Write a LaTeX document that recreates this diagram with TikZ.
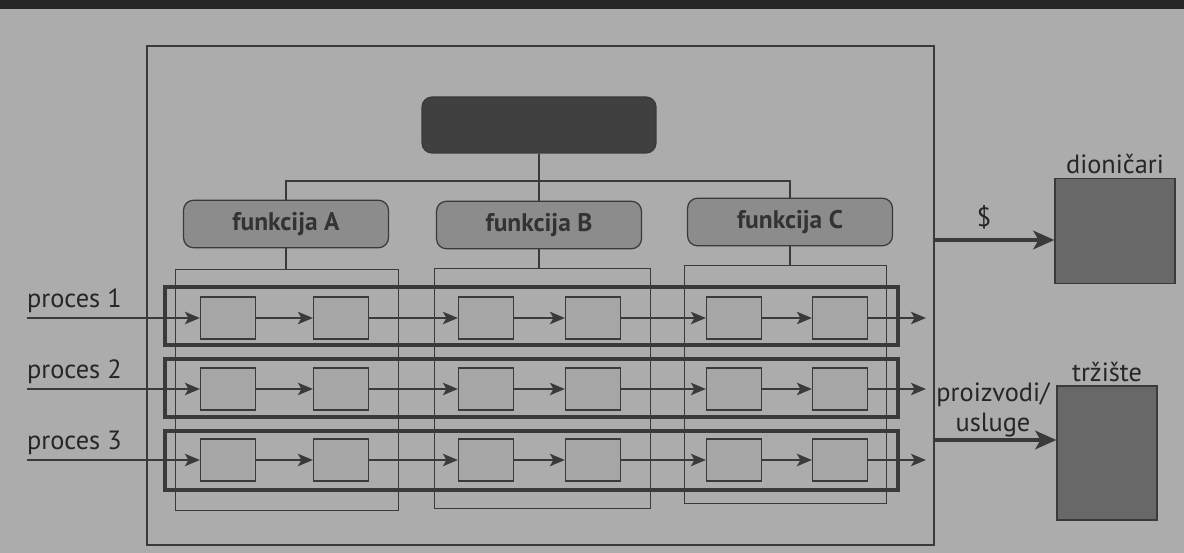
\documentclass[tikz,border=0pt]{standalone}
\usepackage{fontspec}
\setmainfont{PT Sans}
\usepackage{tikz}
\usetikzlibrary{calc, arrows.meta, positioning}

\definecolor{pagebg}{RGB}{172,172,172}
\definecolor{ink}{RGB}{58,58,58}
\definecolor{funcfill}{RGB}{140,140,140}
\definecolor{topfill}{RGB}{64,64,64}
\definecolor{extfill}{RGB}{104,104,104}
\definecolor{cellfill}{RGB}{166,166,166}

\begin{document}
\begin{tikzpicture}[x=0.02cm, y=-0.02cm,
        line/.style={draw=ink, line width=0.7pt},
        func/.style={line, fill=funcfill, rounded corners=0.2cm, minimum width=4.1cm, minimum height=0.95cm, font=\bfseries\fontsize{14.5}{16}\selectfont, text=black!80},
        topbox/.style={line, fill=topfill, rounded corners=0.2cm, minimum width=4.68cm, minimum height=1.12cm},
        colbox/.style={line, line width=0.5pt},
        prow/.style={draw=ink, line width=2.2pt},
        pbox/.style={line, fill=cellfill, minimum width=1.1cm, minimum height=0.84cm, inner sep=0pt},
        flow/.style={draw=ink, line width=1.3pt, -{Stealth[length=8.5pt, width=7pt, inset=2pt]}},
        bigflow/.style={draw=ink, line width=2.4pt, -{Stealth[length=12pt, width=10.5pt, inset=3pt]}},
        ext/.style={line, fill=extfill},
        lbl/.style={font=\fontsize{15}{17}\selectfont, text=black!85, inner sep=1pt}]
    \useasboundingbox (0,0) rectangle (1184,553);
    \fill[pagebg] (0,0) rectangle (1184,553);
    \fill[black!85] (0,0) rectangle (1184,9);

    % outer frame
    \draw[line] (147,46) rectangle (934,545);

    % top of the hierarchy
    \node[topbox] (top) at (539,125) {};
    \node[func] (fA) at (286,224) {funkcija A};
    \node[func] (fB) at (539,225) {funkcija B};
    \node[func] (fC) at (790,222) {funkcija C};
    \coordinate (split) at (539,181);
    \draw[line] (top) -- (split);
    \draw[line] (fA.north) |- (split) -| (fC.north);
    \draw[line] (split) -- (fB.north);

    % function columns
    \node[colbox, minimum width=4.46cm, minimum height=4.82cm] (cA) at (286.5,389.5) {};
    \node[colbox, minimum width=4.32cm, minimum height=4.80cm] (cB) at (542,388) {};
    \node[colbox, minimum width=4.04cm, minimum height=4.76cm] (cC) at (785,384) {};
    \draw[line] (fA.south) -- (fA.south |- cA.north);
    \draw[line] (fB.south) -- (fB.south |- cB.north);
    \draw[line] (fC.south) -- (fC.south |- cC.north);

    % processes
    \draw[prow] (165,287) rectangle (898,345);
    \draw[prow] (165,359) rectangle (898,417);
    \draw[prow] (165,431) rectangle (898,490);
    \foreach \r/\y in {1/318,2/389,3/460} {
        \coordinate (in\r) at (27,\y);
        \coordinate (out\r) at (926,\y);
        \node[lbl, anchor=south west] (p\r) at (25,\y-3) {proces \r};
        \foreach \c/\x in {1/228,2/341,3/486,4/593,5/734,6/840}
            \node[pbox] (b\r\c) at (\x,\y) {};
        \draw[flow] (in\r) -- (b\r1);
        \foreach \c [count=\n from 2] in {1,...,5}
            \draw[flow] (b\r\c) -- (b\r\n);
        \draw[flow] (b\r6) -- (out\r);
    }

    % outside
    \node[ext, minimum width=2.4cm, minimum height=2.1cm] (dion) at (1115,231) {};
    \node[ext, minimum width=2.0cm, minimum height=2.68cm] (market) at (1107,453) {};
    \node[lbl, above=1pt of dion] (dionlbl) {dioničari};
    \node[lbl, above=1pt of market] (marketlbl) {tržište};
    \coordinate (outD) at (934,240);
    \coordinate (outM) at (934,440);
    \draw[bigflow] (outD) -- (outD -| dion.west);
    \draw[bigflow] (outM) -- (outM -| market.west);
    \node[lbl] (dollar) at (984,217) {\$};
    \node[lbl, align=center] (prod) at (993,410) {proizvodi/\\usluge};
\end{tikzpicture}
\end{document}
